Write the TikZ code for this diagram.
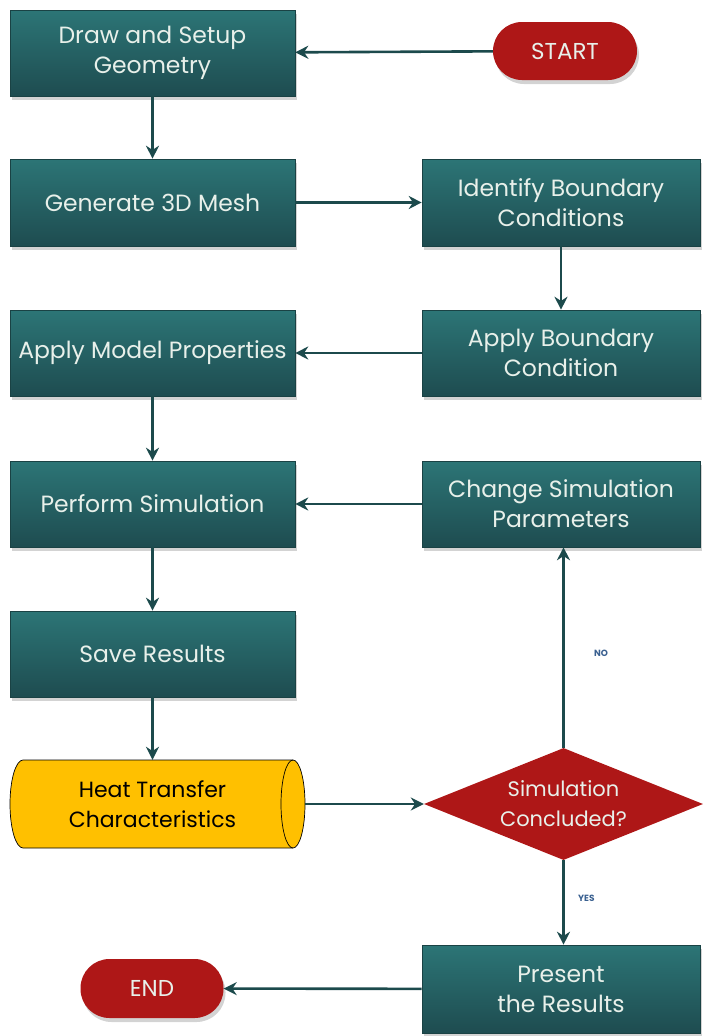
\documentclass[tikz,border=0pt]{standalone}
\usepackage{fontspec}
\setmainfont{Poppins}
\usetikzlibrary{arrows.meta,shapes.geometric,shadows}
\definecolor{tealtop}{HTML}{2C7576}
\definecolor{tealbot}{HTML}{1E4C50}
\definecolor{tealedge}{HTML}{1A4244}
\definecolor{arrowc}{HTML}{1C4A4C}
\definecolor{redf}{HTML}{AE1717}
\definecolor{goldf}{HTML}{FFC000}
\definecolor{boxtext}{HTML}{E8F0EA}
\definecolor{lblc}{HTML}{3A6090}
\tikzset{
  procbox/.style={rectangle, top color=tealtop, bottom color=tealbot, draw=tealedge, line width=0.6pt,
    text=boxtext, font=\fontsize{23.5}{30}\selectfont, align=center, inner sep=0pt,
    drop shadow={shadow xshift=2pt, shadow yshift=-4pt, opacity=0.35}},
  terminal/.style={rectangle, rounded corners=29pt, fill=redf, text=boxtext,
    font=\fontsize{23}{29}\selectfont, inner sep=0pt,
    drop shadow={shadow xshift=2pt, shadow yshift=-4pt, opacity=0.35}},
  decision/.style={diamond, fill=redf, text=boxtext, font=\fontsize{21}{30}\selectfont,
    align=center, inner sep=0pt, aspect=2.5},
  conn/.style={draw=arrowc, line width=2.6pt, -{Stealth[length=13pt,width=13pt]}},
  lbl/.style={text=lblc, font=\bfseries\fontsize{9}{10}\selectfont},
}
\begin{document}
\begin{tikzpicture}[x=1pt,y=-1pt]
\useasboundingbox (0,0) rectangle (703,1036);
% left column
\node[procbox, minimum width=285pt, minimum height=86pt] (geom) at (152.5,53) {Draw and Setup\\Geometry};
\node[procbox, minimum width=285pt, minimum height=87pt] (mesh) at (152.5,202.5) {Generate 3D Mesh};
\node[procbox, minimum width=285pt, minimum height=86pt] (model) at (152.5,353) {Apply Model Properties};
\node[procbox, minimum width=285pt, minimum height=86pt] (sim) at (152.5,504) {Perform Simulation};
\node[procbox, minimum width=285pt, minimum height=86pt] (save) at (152.5,654) {Save Results};
% right column
\node[procbox, minimum width=278pt, minimum height=87pt] (ident) at (561,202.5) {Identify Boundary\\Conditions};
\node[procbox, minimum width=278pt, minimum height=86pt] (applybc) at (561,353) {Apply Boundary\\Condition};
\node[procbox, minimum width=278pt, minimum height=86pt] (change) at (561,504) {Change Simulation\\Parameters};
\node[procbox, minimum width=278pt, minimum height=88pt] (present) at (561,989) {Present\\the Results};
% terminals
\node[terminal, minimum width=144pt, minimum height=58pt] (start) at (565,51) {START};
\node[terminal, minimum width=143pt, minimum height=59pt] (end) at (152,988.5) {END};
% cylinder
\fill[goldf, draw=black, line width=0.7pt] (23,760) -- (293,760) arc[start angle=-90, end angle=90, x radius=12, y radius=44] -- (23,848) arc[start angle=90, end angle=270, x radius=13, y radius=44] -- cycle;
\draw[black, line width=0.7pt] (293,760) arc[start angle=270, end angle=90, x radius=12, y radius=44];
\node[minimum width=285pt, minimum height=88pt, inner sep=0pt, align=center, text=black,
  font=\fontsize{22}{30}\selectfont] (cyl) at (152.5,804) {Heat Transfer\\Characteristics};
\coordinate (cylr) at (305,804);
% decision
\node[decision, minimum width=279pt, minimum height=112pt] (dec) at (563.5,804) {Simulation\\Concluded?};
% connectors
\draw[conn] (start) -- (geom);
\draw[conn] (geom) -- (mesh);
\draw[conn] (mesh) -- (ident);
\draw[conn] (ident) -- (applybc);
\draw[conn] (applybc) -- (model);
\draw[conn] (model) -- (sim);
\draw[conn] (change) -- (sim);
\draw[conn] (sim) -- (save);
\draw[conn] (save) -- (cyl);
\draw[conn] (cylr) -- (dec);
\draw[conn] (dec.north) -- node[lbl, right, xshift=26pt, pos=0.47] {NO} (dec.north |- change.south);
\draw[conn] (dec.south) -- node[lbl, right, xshift=10pt, pos=0.45] {YES} (dec.south |- present.north);
\draw[conn] (present) -- (end);
\end{tikzpicture}
\end{document}
